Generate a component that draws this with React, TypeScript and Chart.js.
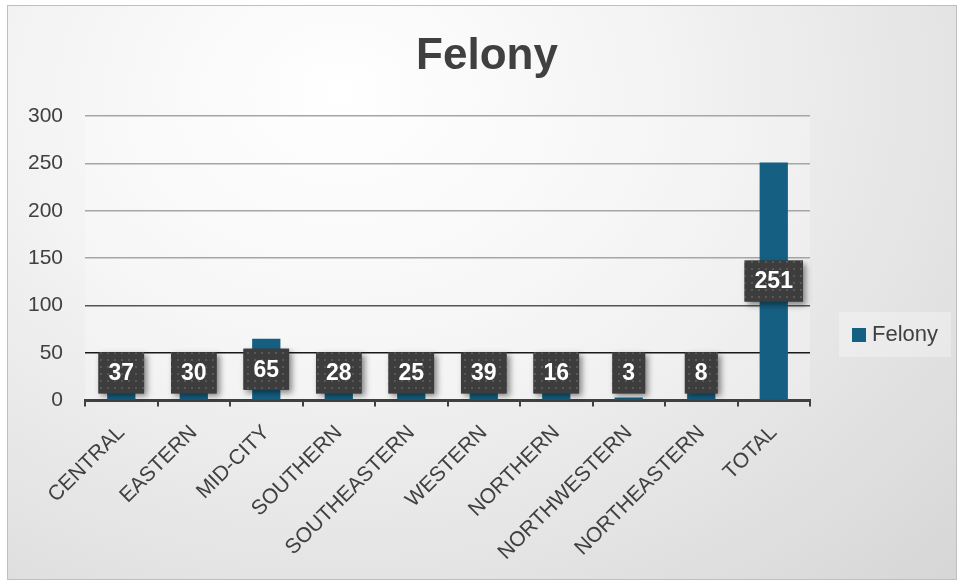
import React, { useEffect, useRef } from "react";
import { Chart, registerables } from "chart.js";

Chart.register(...registerables);

const categories = [
  "CENTRAL",
  "EASTERN",
  "MID-CITY",
  "SOUTHERN",
  "SOUTHEASTERN",
  "WESTERN",
  "NORTHERN",
  "NORTHWESTERN",
  "NORTHEASTERN",
  "TOTAL",
];
const felonyValues = [37, 30, 65, 28, 25, 39, 16, 3, 8, 251];
const seriesName = "Felony";
const chartTitle = "Felony";
const yMin = 0;
const yMax = 300;
const yStep = 50;

const FONT = "'Liberation Sans', Arial, sans-serif";
const BAR_COLOR = "#156082";
const TEXT_COLOR = "#404040";

function makePattern(ctx: CanvasRenderingContext2D) {
  const c = document.createElement("canvas");
  c.width = 7;
  c.height = 7;
  const p = c.getContext("2d")!;
  p.fillStyle = "#3d3d3d";
  p.fillRect(0, 0, 7, 7);
  p.fillStyle = "#585858";
  p.fillRect(2, 2, 2, 2);
  return ctx.createPattern(c, "repeat");
}

const plotBgPlugin = {
  id: "plotBg",
  beforeDraw(chart: any) {
    const { ctx, chartArea } = chart;
    ctx.save();
    ctx.fillStyle = "rgba(255,255,255,0.25)";
    ctx.fillRect(chartArea.left, chartArea.top, chartArea.right - chartArea.left, chartArea.bottom - chartArea.top);
    ctx.fillStyle = TEXT_COLOR;
    ctx.font = `bold 44px ${FONT}`;
    ctx.textAlign = "center";
    ctx.textBaseline = "middle";
    ctx.fillText(chartTitle, 487, 57);
    ctx.restore();
  },
};

const labelPlugin = {
  id: "boxLabels",
  afterDatasetsDraw(chart: any) {
    const { ctx, chartArea } = chart;
    const meta = chart.getDatasetMeta(0);
    const values = chart.data.datasets[0].data as number[];
    const pattern = makePattern(ctx);
    meta.data.forEach((bar: any, i: number) => {
      const v = values[i];
      const { x, y, base } = bar.getProps(["x", "y", "base"], true);
      ctx.save();
      ctx.font = `bold 23px ${FONT}`;
      const text = String(v);
      const tw = ctx.measureText(text).width;
      const w = tw + 20;
      const h = 41;
      let cy = (y + base) / 2;
      cy = Math.min(cy, chartArea.bottom - 7 - h / 2);
      const left = x - w / 2;
      const top = cy - h / 2;
      ctx.shadowColor = "rgba(0,0,0,0.45)";
      ctx.shadowBlur = 6;
      ctx.shadowOffsetX = 3;
      ctx.shadowOffsetY = 3;
      ctx.fillStyle = "#3d3d3d";
      ctx.fillRect(left, top, w, h);
      ctx.shadowColor = "transparent";
      ctx.fillStyle = pattern || "#3d3d3d";
      ctx.fillRect(left, top, w, h);
      ctx.fillStyle = "#ffffff";
      ctx.textAlign = "center";
      ctx.textBaseline = "middle";
      ctx.fillText(text, x, cy + 1);
      ctx.restore();
    });
  },
};

const legendPlugin = {
  id: "customLegend",
  afterDraw(chart: any) {
    const { ctx } = chart;
    ctx.save();
    ctx.fillStyle = "rgba(255,255,255,0.3)";
    ctx.fillRect(839, 312, 112, 45);
    ctx.fillStyle = BAR_COLOR;
    ctx.fillRect(852, 328, 14, 14);
    ctx.fillStyle = TEXT_COLOR;
    ctx.font = `22px ${FONT}`;
    ctx.textAlign = "left";
    ctx.textBaseline = "middle";
    ctx.fillText(seriesName, 872, 335);
    ctx.restore();
  },
};

export default function App() {
  const canvasRef = useRef<HTMLCanvasElement | null>(null);

  useEffect(() => {
    if (!canvasRef.current) return;
    const chart = new Chart(canvasRef.current, {
      type: "bar",
      data: {
        labels: categories,
        datasets: [
          {
            label: seriesName,
            data: felonyValues,
            backgroundColor: BAR_COLOR,
            borderWidth: 0,
            barPercentage: 0.39,
            categoryPercentage: 1,
          },
        ],
      },
      options: {
        responsive: false,
        animation: false,
        layout: { padding: { left: 6, right: 147, top: 116, bottom: 1 } },
        plugins: {
          legend: { display: false },
          tooltip: { enabled: false },
          title: { display: false },
        },
        scales: {
          x: {
            grid: {
              offset: true,
              drawOnChartArea: false,
              drawTicks: true,
              tickLength: 6,
              color: "#404040",
              lineWidth: 2,
            },
            border: { display: true, color: "#404040", width: 3 },
            ticks: {
              minRotation: 45,
              maxRotation: 45,
              color: TEXT_COLOR,
              font: { size: 21, family: FONT },
              padding: 14,
            },
          },
          y: {
            min: yMin,
            max: yMax,
            ticks: {
              stepSize: yStep,
              color: TEXT_COLOR,
              font: { size: 21, family: FONT },
              padding: 22,
            },
            grid: {
              drawTicks: false,
              lineWidth: 1.5,
              color: (ctx: any) => {
                const v = ctx.tick ? ctx.tick.value : 0;
                if (v === 0) return "rgba(0,0,0,0)";
                if (v === 50) return "#1a1a1a";
                if (v === 100) return "#555555";
                return "#a6a6a6";
              },
            },
            border: { display: false },
          },
        },
      },
      plugins: [plotBgPlugin, labelPlugin, legendPlugin],
    });
    return () => chart.destroy();
  }, []);

  return (
    <div style={{ position: "fixed", left: 0, top: 0, width: 957, height: 580, background: "#ffffff" }}>
      <div
        style={{
          position: "absolute",
          left: 7,
          top: 5,
          width: 948,
          height: 573,
          border: "1px solid #bfbfbf",
          background:
            "radial-gradient(ellipse at 35% 15%, #ffffff 0%, #f4f4f4 35%, #e4e4e4 70%, #d6d6d6 100%)",
        }}
      />
      <canvas
        ref={canvasRef}
        width={957}
        height={580}
        style={{ position: "absolute", left: 0, top: 0, width: 957, height: 580 }}
      />
    </div>
  );
}
